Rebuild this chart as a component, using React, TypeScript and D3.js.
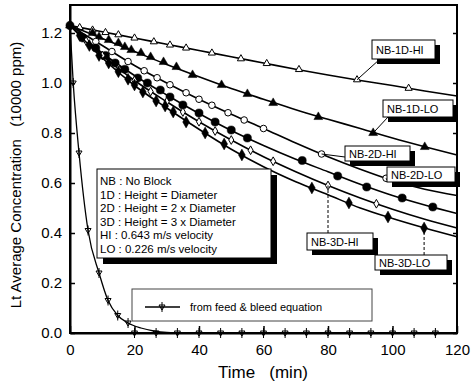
import React, { useRef, useEffect } from "react";
import * as d3 from "d3";

// fitted curve values, read every 10 min
const curveTimes = [0, 10, 20, 30, 40, 50, 60, 70, 80, 90, 100, 110, 120];
const nb1dHiCurve = [1.23, 1.205, 1.18, 1.155, 1.13, 1.105, 1.08, 1.055, 1.032, 1.01, 0.99, 0.968, 0.948];
const nb1dLoCurve = [1.23, 1.178, 1.126, 1.074, 1.025, 0.978, 0.935, 0.893, 0.855, 0.818, 0.78, 0.745, 0.712];
const nb2dHiCurve = [1.23, 1.15, 1.07, 1.0, 0.935, 0.875, 0.818, 0.76, 0.705, 0.655, 0.61, 0.575, 0.55];
const nb2dLoCurve = [1.23, 1.12, 1.03, 0.952, 0.878, 0.81, 0.75, 0.695, 0.645, 0.595, 0.55, 0.512, 0.478];
const nb3dHiCurve = [1.23, 1.11, 1.01, 0.925, 0.845, 0.772, 0.705, 0.645, 0.59, 0.54, 0.495, 0.455, 0.42];
const nb3dLoCurve = [1.23, 1.1, 0.99, 0.9, 0.815, 0.735, 0.665, 0.605, 0.553, 0.5, 0.458, 0.42, 0.385];

// measured points
const nb1dHiTimes = [0, 3, 7, 11, 15, 20, 26, 31, 36, 44, 53, 61, 71, 89, 105];
const nb1dHiValues = [1.23, 1.222, 1.212, 1.202, 1.193, 1.18, 1.165, 1.152, 1.14, 1.12, 1.097, 1.078, 1.054, 1.013, 0.979];
const nb1dLoTimes = [0, 7, 9, 12, 15, 17, 19, 22, 25, 29, 33, 38, 47, 55, 63, 77, 94, 110];
const nb1dLoValues = [1.23, 1.2, 1.184, 1.172, 1.16, 1.144, 1.132, 1.12, 1.104, 1.084, 1.064, 1.032, 0.992, 0.956, 0.92, 0.864, 0.8, 0.744];
const nb2dHiTimes = [8, 13, 18, 23, 27, 31, 36, 40, 44, 49, 54, 60, 78, 98];
const nb2dHiValues = [1.166, 1.126, 1.086, 1.049, 1.021, 0.993, 0.961, 0.935, 0.911, 0.881, 0.852, 0.818, 0.716, 0.619];
const nb2dLoTimes = [0, 4, 8, 11, 14, 17, 21, 24, 28, 31, 35, 40, 45, 50, 55, 72, 83, 92, 103, 112.5];
const nb2dLoValues = [1.23, 1.18, 1.14, 1.11, 1.08, 1.055, 1.02, 1.0, 0.972, 0.944, 0.912, 0.88, 0.844, 0.812, 0.78, 0.69, 0.628, 0.584, 0.54, 0.504];
const nb3dHiTimes = [5, 10, 15, 20, 25, 30, 35, 40, 45, 50, 56, 63, 80, 95];
const nb3dHiValues = [1.168, 1.11, 1.058, 1.01, 0.966, 0.925, 0.884, 0.845, 0.808, 0.772, 0.731, 0.687, 0.59, 0.517];
const nb3dLoTimes = [0, 3, 6, 9, 12, 15, 18, 20, 22.6, 26.7, 29.5, 32, 36, 41.9, 47.8, 53.3, 75, 86.5, 98.6, 109.8];
const nb3dLoValues = [1.23, 1.19, 1.15, 1.11, 1.08, 1.045, 1.015, 0.992, 0.964, 0.928, 0.908, 0.884, 0.844, 0.8, 0.756, 0.712, 0.58, 0.52, 0.464, 0.42];

// feed & bleed equation
const fbCurveTimes = [0, 1, 2.8, 5.6, 9, 11.8, 14.8, 18, 22, 26, 30, 35, 120];
const fbCurveValues = [1.23, 1.0, 0.72, 0.41, 0.24, 0.13, 0.07, 0.04, 0.02, 0.008, 0.002, 0, 0];
const fbMarkTimes = [1, 2.8, 5.6, 9, 11.8, 14.8, 18, 20, 26.7, 33.3, 40, 46.7, 53.3, 60, 66.7, 73.3, 80, 86.7, 93.3, 100, 106.7, 113.3];
const fbMarkValues = [1.0, 0.72, 0.41, 0.24, 0.13, 0.07, 0.04, 0, 0, 0, 0, 0, 0, 0, 0, 0, 0, 0, 0, 0, 0, 0];

const xTicks = [0, 20, 40, 60, 80, 100, 120];
const yTicks = [0, 0.2, 0.4, 0.6, 0.8, 1.0, 1.2];

const legendLines = [
  "NB : No Block",
  "1D : Height = Diameter",
  "2D : Height = 2 x Diameter",
  "3D : Height = 3 x Diameter",
  "HI : 0.643 m/s velocity",
  "LO : 0.226 m/s velocity",
];

const FONT = "'Liberation Sans', Arial, sans-serif";

const fbSymbol = "M-3,-2L3,-2L0,3Z M0,-5L0,5";

const App = () => {
  const ref = useRef<SVGSVGElement>(null);

  useEffect(() => {
    const svg = d3.select(ref.current);
    svg.selectAll("*").remove();

    const x = d3.scaleLinear().domain([0, 120]).range([70, 457]);
    const y = d3.scaleLinear().domain([0, 1.312]).range([333, 5]);

    const series = [
      { name: "NB-1D-HI", curve: nb1dHiCurve, t: nb1dHiTimes, v: nb1dHiValues, sym: d3.symbolTriangle, size: 22, filled: false },
      { name: "NB-1D-LO", curve: nb1dLoCurve, t: nb1dLoTimes, v: nb1dLoValues, sym: d3.symbolTriangle, size: 34, filled: true },
      { name: "NB-2D-HI", curve: nb2dHiCurve, t: nb2dHiTimes, v: nb2dHiValues, sym: d3.symbolCircle, size: 34, filled: false },
      { name: "NB-2D-LO", curve: nb2dLoCurve, t: nb2dLoTimes, v: nb2dLoValues, sym: d3.symbolCircle, size: 52, filled: true },
      { name: "NB-3D-HI", curve: nb3dHiCurve, t: nb3dHiTimes, v: nb3dHiValues, sym: d3.symbolDiamond, size: 22, filled: false },
      { name: "NB-3D-LO", curve: nb3dLoCurve, t: nb3dLoTimes, v: nb3dLoValues, sym: d3.symbolDiamond, size: 40, filled: true },
    ];

    const line = d3
      .line<[number, number]>()
      .x(d => x(d[0]))
      .y(d => y(d[1]))
      .curve(d3.curveMonotoneX);

    const g = svg.append("g");

    // frame
    g.append("rect")
      .attr("x", x(0))
      .attr("y", y(1.312))
      .attr("width", x(120) - x(0))
      .attr("height", y(0) - y(1.312))
      .attr("fill", "none")
      .attr("stroke", "#000")
      .attr("stroke-width", 2);

    // axes
    const ax = g.append("g")
      .attr("transform", `translate(0,${y(0)})`)
      .call(d3.axisBottom(x).tickValues(xTicks).tickSizeInner(-7).tickSizeOuter(0).tickPadding(11).tickFormat(d3.format("d")));
    const ay = g.append("g")
      .attr("transform", `translate(${x(0)},0)`)
      .call(d3.axisLeft(y).tickValues(yTicks).tickSizeInner(-5).tickSizeOuter(0).tickPadding(8).tickFormat(d3.format(".1f")));
    g.append("g")
      .attr("transform", `translate(${x(120)},0)`)
      .call(d3.axisRight(y).tickValues(yTicks).tickSizeInner(-4).tickSizeOuter(0).tickFormat(() => ""));
    [ax, ay].forEach(a => {
      a.select(".domain").attr("stroke-width", 2);
      a.selectAll("text").attr("font-family", FONT).attr("font-size", 15).attr("fill", "#000");
    });
    g.selectAll(".tick line").attr("stroke-width", 1.5);

    // feed & bleed
    g.append("path")
      .datum(d3.zip(fbCurveTimes, fbCurveValues) as [number, number][])
      .attr("d", line)
      .attr("fill", "none")
      .attr("stroke", "#000")
      .attr("stroke-width", 1.3);
    g.selectAll(".fb")
      .data(d3.zip(fbMarkTimes, fbMarkValues))
      .enter()
      .append("path")
      .attr("transform", d => `translate(${x(d[0])},${y(d[1])})`)
      .attr("d", fbSymbol)
      .attr("fill", "none")
      .attr("stroke", "#000")
      .attr("stroke-width", 1);

    // six block series
    series.forEach(s => {
      g.append("path")
        .datum(d3.zip(curveTimes, s.curve) as [number, number][])
        .attr("d", line)
        .attr("fill", "none")
        .attr("stroke", "#000")
        .attr("stroke-width", 1.6);
      g.selectAll(null)
        .data(d3.zip(s.t, s.v))
        .enter()
        .append("path")
        .attr("transform", d => `translate(${x(d[0])},${y(d[1])})`)
        .attr("d", d3.symbol().type(s.sym).size(s.size)())
        .attr("fill", s.filled ? "#000" : "#fff")
        .attr("stroke", "#000")
        .attr("stroke-width", s.filled ? 0.5 : 1);
    });

    // curve labels with shadow
    const labels = [
      { text: "NB-1D-HI", bx: 372, by: 40, w: 63, h: 19, from: [380, 59], to: [x(89), y(1.013)], dash: false },
      { text: "NB-1D-LO", bx: 383, by: 100, w: 70, h: 17, from: [388, 117], to: [x(94), y(0.8)], dash: false },
      { text: "NB-2D-HI", bx: 345, by: 146, w: 65, h: 15, from: [345, 157], to: [x(78), y(0.716)], dash: false },
      { text: "NB-2D-LO", bx: 387, by: 167, w: 68, h: 15, from: [387, 180], to: [x(98), y(0.619)], dash: false },
      { text: "NB-3D-HI", bx: 307, by: 233, w: 66, h: 17, from: [x(80), 233], to: [x(80), y(0.59)], dash: true },
      { text: "NB-3D-LO", bx: 375, by: 255, w: 72, h: 15, from: [x(109.8), 255], to: [x(109.8), y(0.42)], dash: true },
    ];
    labels.forEach(l => {
      g.append("line")
        .attr("x1", l.from[0]).attr("y1", l.from[1])
        .attr("x2", l.to[0]).attr("y2", l.to[1])
        .attr("stroke", "#000")
        .attr("stroke-width", 1)
        .attr("stroke-dasharray", l.dash ? "3,2" : null);
      g.append("rect")
        .attr("x", l.bx + 5).attr("y", l.by + 5)
        .attr("width", l.w).attr("height", l.h)
        .attr("fill", "#000");
      g.append("rect")
        .attr("x", l.bx).attr("y", l.by)
        .attr("width", l.w).attr("height", l.h)
        .attr("fill", "#fff")
        .attr("stroke", "#000")
        .attr("stroke-width", 1);
      g.append("text")
        .attr("x", l.bx + 4)
        .attr("y", l.by + l.h / 2 + 4)
        .attr("font-family", FONT)
        .attr("font-size", 11)
        .text(l.text);
    });

    // abbreviation legend
    g.append("rect").attr("x", 103).attr("y", 175).attr("width", 174).attr("height", 89).attr("fill", "#000");
    g.append("rect")
      .attr("x", 97).attr("y", 169).attr("width", 174).attr("height", 89)
      .attr("fill", "#fff").attr("stroke", "#000").attr("stroke-width", 1);
    g.selectAll(".leg")
      .data(legendLines)
      .enter()
      .append("text")
      .attr("x", 100)
      .attr("y", (d, i) => 185 + i * 13.5)
      .attr("font-family", FONT)
      .attr("font-size", 11.5)
      .text(d => d);

    // feed & bleed legend
    g.append("rect")
      .attr("x", 132).attr("y", 289).attr("width", 240).attr("height", 32)
      .attr("fill", "#fff").attr("stroke", "#444").attr("stroke-width", 1);
    g.append("line").attr("x1", 145).attr("x2", 180).attr("y1", 307).attr("y2", 307).attr("stroke", "#000").attr("stroke-width", 1.3);
    g.append("path").attr("transform", "translate(162,307)").attr("d", fbSymbol).attr("fill", "none").attr("stroke", "#000");
    g.append("text")
      .attr("x", 190).attr("y", 311)
      .attr("font-family", FONT).attr("font-size", 11)
      .text("from feed & bleed equation");

    // titles
    g.append("text")
      .attr("x", 263).attr("y", 378)
      .attr("text-anchor", "middle")
      .attr("font-family", FONT).attr("font-size", 17)
      .style("white-space", "pre")
      .text("Time   (min)");
    g.append("text")
      .attr("transform", "translate(21,175) rotate(-90)")
      .attr("text-anchor", "middle")
      .attr("font-family", FONT).attr("font-size", 15)
      .style("white-space", "pre")
      .text("Lt Average Concentration   (10000 ppm)");
  }, []);

  return (
    <svg ref={ref} width={471} height={382} style={{ position: "absolute", left: 0, top: 0, background: "#fff" }} />
  );
};

export default App;
